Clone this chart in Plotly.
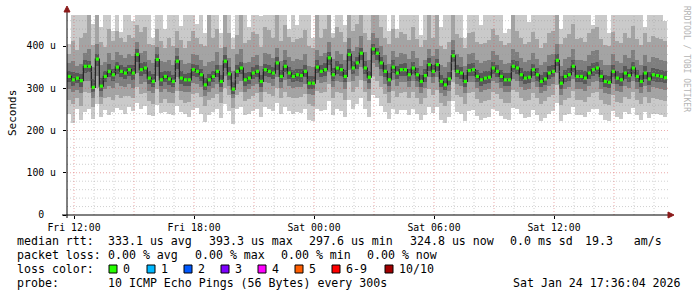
import pandas as pd
import plotly.graph_objects as go

# ---------------- data (values in microseconds) ----------------
START = "2026-01-23 11:40"
STEP_MINUTES = 12

MEDIAN = [
    328, 320, 324, 318, 352, 352, 302, 369, 305, 328, 340, 332, 350, 340, 336, 344, 336, 380, 344, 348, 324, 316, 368, 320, 328, 322, 316, 364, 324, 320,
    320, 344, 340, 332, 308, 320, 328, 340, 316, 364, 334, 298, 340, 348, 320, 324, 336, 340, 316, 344, 340, 336, 360, 328, 352, 336, 328, 332, 330, 340,
    312, 312, 350, 340, 344, 372, 332, 348, 344, 328, 380, 348, 360, 383, 348, 326, 393, 383, 360, 340, 320, 350, 336, 344, 344, 332, 348, 332, 316, 330,
    356, 340, 356, 316, 308, 322, 377, 340, 336, 316, 342, 344, 328, 320, 324, 326, 348, 340, 328, 320, 320, 352, 348, 332, 324, 326, 344, 332, 316, 322,
    336, 340, 366, 312, 328, 332, 352, 328, 328, 324, 336, 344, 348, 328, 316, 314, 340, 324, 320, 336, 330, 348, 328, 316, 336, 322, 332, 330, 328, 325,
]
HI4 = [
    342, 338, 336, 334, 366, 364, 322, 382, 324, 340, 358, 346, 362, 356, 350, 356, 354, 392, 360, 362, 340, 334, 380, 338, 340, 340, 332, 376, 342, 334,
    336, 358, 356, 346, 324, 334, 342, 356, 332, 378, 350, 314, 354, 362, 336, 338, 350, 356, 332, 358, 354, 350, 374, 344, 366, 350, 344, 346, 346, 354,
    328, 328, 366, 354, 360, 386, 348, 364, 358, 344, 394, 364, 374, 396, 364, 342, 404, 396, 374, 356, 336, 366, 352, 358, 360, 346, 362, 348, 332, 346,
    372, 356, 370, 332, 324, 338, 390, 356, 350, 332, 358, 360, 344, 336, 340, 342, 362, 356, 344, 336, 336, 366, 364, 348, 340, 342, 358, 348, 332, 338,
    352, 356, 380, 328, 344, 348, 366, 344, 344, 340, 352, 360, 362, 344, 332, 330, 356, 340, 336, 352, 346, 362, 344, 332, 352, 338, 348, 346, 344, 340,
]
LO4 = [
    316, 306, 312, 304, 336, 338, 290, 352, 294, 314, 326, 318, 334, 326, 322, 330, 320, 362, 330, 334, 310, 304, 350, 306, 314, 308, 302, 346, 310, 306,
    306, 330, 326, 318, 296, 306, 314, 326, 302, 348, 320, 286, 326, 334, 306, 310, 322, 326, 302, 330, 326, 322, 344, 314, 338, 322, 314, 318, 316, 326,
    298, 298, 336, 326, 330, 356, 318, 334, 330, 314, 364, 334, 346, 368, 334, 312, 378, 368, 346, 326, 306, 336, 322, 330, 330, 318, 334, 318, 302, 316,
    342, 326, 342, 302, 296, 308, 362, 326, 322, 302, 328, 330, 314, 306, 310, 312, 334, 326, 314, 306, 306, 338, 334, 318, 310, 312, 330, 318, 302, 308,
    322, 326, 352, 298, 314, 318, 338, 314, 314, 310, 322, 330, 334, 314, 302, 300, 326, 310, 306, 322, 316, 334, 314, 302, 322, 308, 318, 316, 314, 312,
]
HI3 = [
    360, 364, 352, 358, 384, 392, 350, 404, 356, 362, 384, 368, 386, 378, 372, 380, 376, 410, 384, 388, 366, 360, 398, 364, 362, 368, 356, 396, 368, 358,
    360, 382, 378, 366, 352, 362, 364, 386, 354, 398, 372, 340, 380, 392, 360, 362, 374, 378, 352, 384, 380, 372, 396, 364, 390, 374, 364, 370, 368, 380,
    352, 350, 390, 376, 384, 410, 370, 388, 382, 366, 420, 388, 398, 424, 386, 366, 430, 420, 400, 378, 358, 388, 374, 384, 382, 370, 388, 372, 352, 368,
    394, 376, 392, 356, 350, 362, 414, 380, 374, 352, 380, 384, 366, 360, 364, 366, 388, 378, 366, 358, 360, 392, 386, 372, 362, 366, 384, 370, 354, 362,
    378, 382, 404, 352, 370, 374, 392, 368, 368, 364, 378, 388, 390, 368, 356, 354, 382, 364, 360, 378, 372, 390, 368, 356, 378, 362, 374, 372, 368, 364,
]
LO3 = [
    298, 290, 296, 288, 318, 318, 278, 330, 280, 298, 306, 300, 312, 306, 304, 310, 300, 336, 310, 314, 294, 288, 330, 290, 298, 292, 288, 326, 294, 290,
    292, 312, 310, 304, 282, 292, 300, 310, 290, 330, 306, 276, 310, 318, 292, 298, 306, 310, 290, 316, 312, 306, 326, 300, 320, 306, 300, 304, 302, 310,
    286, 284, 320, 312, 314, 338, 302, 318, 314, 298, 344, 318, 330, 350, 318, 298, 360, 350, 330, 310, 292, 320, 306, 314, 314, 302, 318, 302, 288, 300,
    326, 312, 326, 288, 282, 294, 344, 310, 306, 288, 314, 316, 300, 292, 296, 298, 318, 312, 300, 292, 292, 322, 318, 304, 296, 298, 314, 304, 288, 294,
    306, 310, 336, 284, 298, 302, 322, 298, 298, 294, 306, 314, 318, 298, 288, 286, 310, 294, 290, 306, 300, 318, 298, 288, 306, 292, 302, 300, 298, 296,
]
HI2 = [
    382, 412, 390, 420, 430, 474, 402, 474, 410, 398, 440, 412, 436, 420, 410, 426, 418, 450, 432, 446, 404, 402, 440, 412, 396, 418, 400, 436, 414, 396,
    412, 436, 420, 404, 400, 474, 418, 440, 396, 474, 430, 392, 426, 474, 408, 414, 432, 428, 398, 446, 438, 420, 474, 412, 450, 422, 410, 416, 420, 438,
    400, 396, 474, 420, 440, 474, 418, 446, 432, 410, 474, 436, 452, 474, 430, 414, 474, 474, 446, 420, 404, 440, 418, 434, 428, 414, 446, 416, 398, 414,
    474, 420, 474, 400, 392, 410, 474, 428, 420, 396, 430, 434, 410, 404, 408, 414, 440, 426, 412, 402, 406, 474, 436, 418, 404, 410, 432, 416, 396, 408,
    430, 436, 474, 404, 420, 428, 452, 416, 420, 410, 430, 440, 446, 416, 402, 400, 434, 412, 408, 430, 420, 448, 416, 402, 430, 410, 424, 420, 416, 412,
]
LO2 = [
    272, 262, 276, 258, 290, 288, 256, 300, 262, 276, 280, 272, 284, 278, 282, 282, 276, 302, 286, 288, 270, 262, 298, 266, 274, 266, 264, 294, 272, 266,
    268, 286, 288, 280, 258, 272, 278, 286, 266, 300, 284, 254, 284, 290, 270, 274, 282, 288, 268, 292, 286, 282, 300, 276, 292, 280, 276, 278, 280, 286,
    262, 258, 294, 288, 290, 310, 276, 292, 288, 272, 316, 292, 304, 320, 290, 270, 330, 318, 302, 286, 266, 294, 280, 288, 290, 276, 292, 278, 262, 276,
    298, 284, 296, 264, 258, 270, 316, 284, 280, 262, 288, 290, 274, 266, 270, 272, 292, 286, 274, 266, 266, 296, 292, 278, 270, 272, 288, 278, 262, 270,
    280, 284, 308, 260, 272, 276, 294, 272, 272, 268, 280, 288, 290, 272, 262, 260, 284, 268, 264, 280, 274, 290, 272, 262, 280, 266, 276, 274, 272, 270,
]
HI1 = [
    405, 480, 480, 480, 480, 480, 452, 480, 446, 480, 480, 436, 480, 432, 480, 480, 460, 480, 480, 480, 480, 420, 480, 480, 440, 480, 480, 480, 448, 480,
    480, 480, 452, 480, 430, 480, 480, 480, 430, 480, 480, 420, 480, 480, 480, 444, 480, 480, 470, 480, 480, 480, 480, 480, 480, 440, 480, 450, 480, 480,
    480, 420, 480, 480, 480, 480, 430, 480, 480, 450, 480, 480, 480, 480, 480, 480, 480, 480, 480, 480, 436, 480, 440, 480, 480, 480, 480, 480, 426, 480,
    480, 480, 480, 444, 480, 480, 480, 480, 480, 420, 480, 480, 480, 450, 480, 480, 480, 480, 480, 430, 440, 480, 480, 480, 480, 456, 480, 480, 480, 480,
    480, 480, 480, 440, 480, 480, 480, 480, 480, 480, 480, 450, 480, 480, 480, 430, 480, 480, 480, 480, 480, 480, 480, 480, 445, 480, 480, 480, 480, 460,
]
LO1 = [
    240, 218, 250, 226, 244, 252, 228, 262, 232, 248, 236, 244, 254, 248, 238, 256, 246, 266, 252, 258, 236, 234, 260, 242, 244, 238, 236, 258, 244, 240,
    232, 248, 254, 240, 220, 236, 244, 250, 230, 262, 246, 216, 250, 256, 236, 240, 246, 252, 232, 256, 250, 246, 264, 240, 256, 246, 240, 244, 242, 250,
    226, 222, 252, 246, 248, 270, 236, 252, 246, 232, 272, 250, 262, 276, 250, 232, 284, 276, 258, 244, 228, 250, 240, 248, 248, 236, 252, 240, 226, 236,
    256, 242, 256, 224, 218, 232, 270, 244, 240, 222, 246, 248, 234, 226, 230, 232, 250, 246, 234, 228, 226, 254, 250, 238, 230, 232, 248, 236, 222, 230,
    240, 246, 266, 222, 236, 240, 256, 236, 236, 232, 244, 250, 252, 236, 226, 222, 246, 232, 228, 244, 238, 254, 236, 226, 244, 230, 240, 238, 236, 232,
]

TICK_TIMES = ["2026-01-23 12:00", "2026-01-23 18:00", "2026-01-24 00:00", "2026-01-24 06:00", "2026-01-24 12:00"]
TICK_LABELS = ["Fri 12:00", "Fri 18:00", "Sat 00:00", "Sat 06:00", "Sat 12:00"]
Y_TICKS = [0, 100, 200, 300, 400]
Y_LABELS = ["0\u00a0\u00a0", "100 u", "200 u", "300 u", "400 u"]

LOSS_LABELS = ["0", "1", "2", "3", "4", "5", "6-9", "10/10"]
LOSS_COLORS = ["#26ff00", "#00b8ff", "#0059ff", "#7e00ff", "#ff00ff", "#ff5e00", "#ff0000", "#a10000"]

X_RANGE = ["2026-01-23 11:39", "2026-01-24 17:42"]
Y_RANGE = [0, 473.4]

# ---------------- layout geometry ----------------
W, H = 697, 297
L, R, T, B = 67, 29, 15, 82
PW, PH = W - L - R, H - T - B
MONO = "DejaVu Sans Mono"


def px2x(px):
    return (px - L) / PW


def py2y(py):
    return (T + PH - py) / PH


step = pd.Timedelta(minutes=STEP_MINUTES)
starts = pd.date_range(START, periods=len(MEDIAN), freq=f"{STEP_MINUTES}min")
centers = starts + step / 2
width_ms = STEP_MINUTES * 60 * 1000

fig = go.Figure()

bands = [(LO1, HI1, "#cacaca"), (LO2, HI2, "#a4a4a4"), (LO3, HI3, "#7e7e7e"), (LO4, HI4, "#585858")]
for lo, hi, col in bands:
    fig.add_trace(go.Bar(
        x=centers, base=lo, y=[h - l for h, l in zip(hi, lo)],
        width=[width_ms] * len(lo), marker=dict(color=col, line=dict(width=0)),
        hoverinfo="skip", showlegend=False))

fig.add_trace(go.Scatter(x=centers, y=MEDIAN, mode="lines", line=dict(color="#202020", width=1.2, shape="hvh"),
                         hoverinfo="skip", showlegend=False))
fig.add_trace(go.Scatter(x=centers, y=MEDIAN, mode="markers",
                         marker=dict(symbol="square", size=3.2, color=LOSS_COLORS[0], line=dict(width=0)),
                         hoverinfo="skip", showlegend=False))

shapes = []
# grid (drawn above the smoke, as rrdtool does)
minor_c = "rgba(150,150,150,0.45)"
major_c = "rgba(215,90,90,0.5)"
for v in range(20, int(Y_RANGE[1]), 20):
    shapes.append(dict(type="line", xref="paper", yref="y", x0=0, x1=1, y0=v, y1=v, layer="above",
                       line=dict(color=major_c if v % 100 == 0 else minor_c, width=1, dash="1px,2px")))
hours = pd.date_range("2026-01-23 12:00", "2026-01-24 17:00", freq="1h")
for hr in hours:
    shapes.append(dict(type="line", xref="x", yref="paper", x0=hr, x1=hr, y0=0, y1=1, layer="above",
                       line=dict(color=major_c if hr.hour % 3 == 0 else minor_c, width=1, dash="1px,2px")))

# axes with arrows
shapes.append(dict(type="line", xref="paper", yref="paper", x0=px2x(62), x1=px2x(669), y0=0, y1=0,
                   line=dict(color="#000000", width=1), layer="above"))
shapes.append(dict(type="line", xref="paper", yref="paper", x0=0, x1=0, y0=py2y(218), y1=py2y(11),
                   line=dict(color="#000000", width=1), layer="above"))
arrow_c = "#8b1a1a"
shapes.append(dict(type="path", xref="paper", yref="paper",
                   path=f"M {px2x(668)},{py2y(212)} L {px2x(674)},{py2y(215)} L {px2x(668)},{py2y(218)} Z",
                   fillcolor=arrow_c, line=dict(color=arrow_c, width=1), layer="above"))
shapes.append(dict(type="path", xref="paper", yref="paper",
                   path=f"M {px2x(64)},{py2y(12)} L {px2x(67)},{py2y(6)} L {px2x(70)},{py2y(12)} Z",
                   fillcolor=arrow_c, line=dict(color=arrow_c, width=1), layer="above"))

annotations = []


def text(s, px, py, size=11.6, anchor="left", color="#000000"):
    annotations.append(dict(text=s, x=px2x(px), y=py2y(py), xref="paper", yref="paper",
                            xanchor=anchor, yanchor="middle", showarrow=False, borderpad=0,
                            font=dict(family=MONO, size=size, color=color)))


# legend rows
row1, row2, row3, row4 = 241, 255, 269, 283
text("median rtt:", 16, row1)
text("333.1 us avg", 107, row1)
text("393.3 us max", 208, row1)
text("297.6 us min", 308, row1)
text("324.8 us now", 409, row1)
text("0.0 ms sd", 509, row1)
text("19.3\u00a0\u00a0\u00a0am/s", 663, row1, anchor="right")

text("packet loss:", 16, row2)
text("0.00 % avg", 107, row2)
text("0.00 % max", 194, row2)
text("0.00 % min", 280, row2)
text("0.00 % now", 366, row2)

text("loss color:", 16, row3)
box_x = [109, 147, 184, 221, 258, 295, 332, 385]
for bx, lab, col in zip(box_x, LOSS_LABELS, LOSS_COLORS):
    shapes.append(dict(type="rect", xref="paper", yref="paper", x0=px2x(bx), x1=px2x(bx + 8),
                       y0=py2y(273), y1=py2y(265), fillcolor=col, line=dict(color="#000000", width=1)))
    text(lab, bx + 13, row3)

text("probe:", 16, row4)
text("10 ICMP Echo Pings (56 Bytes) every 300s", 107, row4)
text("Sat Jan 24 17:36:04 2026", 682, row4, anchor="right")

# axis title and watermark
annotations.append(dict(text="Seconds", x=px2x(12), y=py2y(113), xref="paper", yref="paper",
                        xanchor="center", yanchor="middle", showarrow=False, textangle=-90,
                        font=dict(family=MONO, size=11, color="#000000")))
annotations.append(dict(text="RRDTOOL / TOBI OETIKER", x=px2x(686), y=py2y(59), xref="paper", yref="paper",
                        xanchor="center", yanchor="middle", showarrow=False, textangle=90,
                        font=dict(family=MONO, size=8, color="#b4b4b4")))

fig.update_layout(
    width=W, height=H, margin=dict(l=L, r=R, t=T, b=B, pad=0),
    paper_bgcolor="#ffffff", plot_bgcolor="#ffffff",
    barmode="overlay", bargap=0, showlegend=False,
    shapes=shapes, annotations=annotations,
    xaxis=dict(type="date", range=X_RANGE, showgrid=False, zeroline=False, showline=False,
               tickvals=TICK_TIMES, ticktext=TICK_LABELS, ticks="outside", ticklen=3, tickcolor="#000000",
               tickfont=dict(family=MONO, size=9.8, color="#000000")),
    yaxis=dict(range=Y_RANGE, showgrid=False, zeroline=False, showline=False,
               tickvals=Y_TICKS, ticktext=Y_LABELS, ticks="outside", ticklen=3, tickcolor="#000000",
               ticklabelstandoff=5, tickfont=dict(family=MONO, size=9.8, color="#000000")),
)

fig.write_html("out.html")
